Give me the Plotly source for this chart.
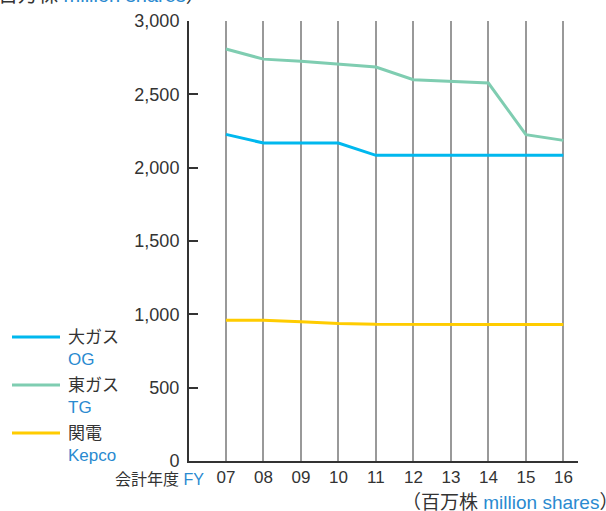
import plotly.graph_objects as go

# ---------------------------------------------------------------------------
#  Data (million shares, fiscal years 07-16)
# ---------------------------------------------------------------------------
years = ["07", "08", "09", "10", "11", "12", "13", "14", "15", "16"]
og_shares = [2227, 2168, 2168, 2168, 2084, 2084, 2084, 2084, 2084, 2084]
tg_shares = [2809, 2740, 2725, 2708, 2686, 2600, 2590, 2577, 2225, 2186]
kepco_shares = [959, 959, 950, 938, 932, 930, 930, 931, 930, 930]

series_names = ["大ガス", "東ガス", "関電"]
series_codes = ["OG", "TG", "Kepco"]
series_colors = ["#00b8ee", "#7fcdb1", "#ffcc00"]

BLUE = "#2a8ad0"
TEXT = "#333333"
FONT = "Liberation Sans, Noto Sans CJK JP, sans-serif"

# plot area in pixels (for placing decorations in paper coordinates)
L, R, T, B = 189, 578, 21, 461
W, H = 606, 511


def px(x):
    return (x - L) / (R - L)


def py(y):
    return (B - y) / (B - T)


x_idx = list(range(len(years)))

fig = go.Figure()
for vals, color in zip([og_shares, tg_shares, kepco_shares], series_colors):
    fig.add_trace(go.Scatter(
        x=x_idx, y=vals, mode="lines",
        line=dict(color=color, width=3),
        showlegend=False, hoverinfo="y",
    ))

# hand-made legend: colour sample + two-line label
legend_y = [337, 385, 433]
for name, code, color, ly in zip(series_names, series_codes, series_colors, legend_y):
    fig.add_shape(type="line", xref="paper", yref="paper",
                  x0=px(12), x1=px(60), y0=py(ly), y1=py(ly),
                  line=dict(color=color, width=3))
    fig.add_annotation(
        xref="paper", yref="paper", x=px(66), y=py(ly + 11),
        xanchor="left", yanchor="middle", align="left", showarrow=False,
        text=f"{name}<br><span style='color:{BLUE}'>{code}</span>",
        font=dict(size=17, color=TEXT),
    )

# axis captions
fig.add_annotation(
    xref="paper", yref="paper", x=px(206), y=py(479),
    xanchor="right", yanchor="middle", showarrow=False,
    text=f"会計年度 <span style='color:{BLUE}'>FY</span>",
    font=dict(size=16, color=TEXT),
)
# the full-width closing bracket carries blank space on its right,
# so the anchor sits a little past the window edge
fig.add_annotation(
    xref="paper", yref="paper", x=px(620), y=py(502),
    xanchor="right", yanchor="middle", showarrow=False,
    text=f"（百万株 <span style='color:{BLUE}'>million shares</span>）",
    font=dict(size=19, color=TEXT),
)
# unit caption at the top, partly outside the window as in the original
fig.add_annotation(
    xref="paper", yref="paper", x=px(208), y=py(-5),
    xanchor="right", yanchor="middle", showarrow=False,
    text=f"（百万株 <span style='color:{BLUE}'>million shares</span>）",
    font=dict(size=20, color=TEXT),
)

fig.update_layout(
    width=W, height=H,
    margin=dict(l=L, r=W - R, t=T, b=H - B),
    paper_bgcolor="white", plot_bgcolor="white",
    font=dict(family=FONT, size=17, color=TEXT),
    xaxis=dict(
        range=[-0.985, 9.39],
        tickvals=x_idx, ticktext=years,
        showgrid=True, gridcolor="#999999", gridwidth=1.5,
        showline=True, linecolor="#333333", linewidth=2,
        zeroline=False, ticks="", fixedrange=True,
        tickfont=dict(size=17, color=TEXT),
    ),
    yaxis=dict(
        range=[0, 3000], dtick=500, tickformat=",",
        showgrid=False, zeroline=False,
        showline=True, linecolor="#333333", linewidth=2,
        ticks="inside", ticklen=9, tickwidth=1.5, tickcolor="#333333",
        ticklabelstandoff=4, fixedrange=True,
        tickfont=dict(size=18, color=TEXT),
    ),
)

# drop the browser's default 8px body margin so the figure fills the window
fig.write_html(
    "out.html",
    config={"displayModeBar": False},
    post_script="document.body.style.margin = '0';",
)
